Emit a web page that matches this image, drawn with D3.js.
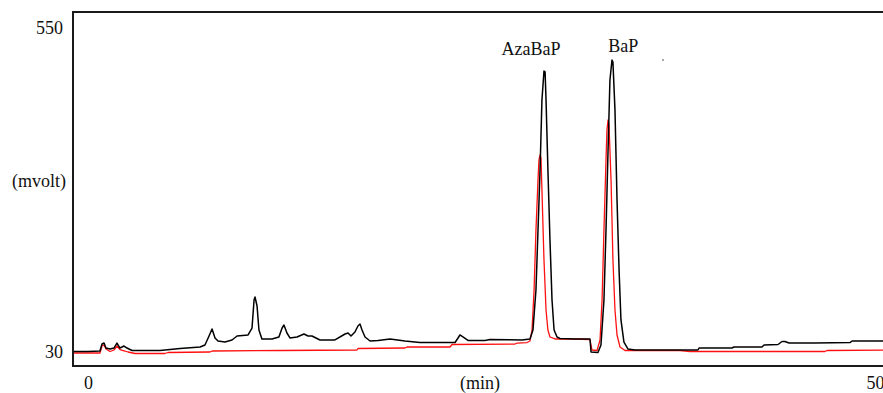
<!DOCTYPE html>
<html lang="en">
<head>
  <style>
    body { margin: 0; background: #fff; }
    .trace { fill: none; stroke-linejoin: round; }
    .lbl { font: 18px "Liberation Serif", serif; fill: #111; }
  </style>
  <script src="https://d3js.org/d3.v7.min.js"></script>
</head>
<body>
  <script>
    // time (min) and signal (mvolt)
    const blackTime = [-0.9, 0, 0.76, 0.89, 1.02, 1.14, 1.40, 1.65, 1.84, 2.03, 2.29, 2.48, 2.80, 4.57, 4.89, 5.85, 7.12, 7.43, 7.69, 7.88, 8.07, 8.26, 8.70, 9.15, 9.47, 10.17, 10.42, 10.55, 10.61, 10.74, 10.86, 11.05, 11.69, 12.13, 12.33, 12.45, 12.64, 12.83, 13.28, 13.72, 13.98, 14.23, 14.74, 15.69, 16.33, 16.52, 16.71, 16.96, 17.15, 17.28, 17.41, 17.60, 17.92, 18.43, 19.19, 20.14, 21.09, 23.32, 23.51, 23.63, 23.82, 24.14, 25.22, 25.54, 27.57, 28.08, 28.27, 28.46, 28.59, 28.72, 28.84, 28.97, 29.04, 29.10, 29.22, 29.35, 29.48, 29.61, 29.80, 29.99, 30.94, 31.89, 31.96, 32.40, 32.59, 32.78, 32.91, 33.04, 33.16, 33.29, 33.35, 33.48, 33.61, 33.74, 33.86, 34.05, 34.31, 34.75, 38.75, 38.82, 40.91, 41.04, 42.82, 42.95, 43.84, 44.09, 44.28, 44.54, 46.19, 48.41, 48.54, 51.5];
    const blackValue = [31, 31, 31.6, 42.8, 44.4, 36.4, 34.8, 36.4, 44.4, 36.4, 39.6, 36.4, 32.4, 32.4, 33.2, 35.6, 38, 41.2, 55.7, 66.9, 52.5, 47.7, 46, 49.3, 55.7, 57.3, 68.5, 113.5, 118.3, 103.8, 65.3, 50.9, 50.9, 54.1, 68.5, 73.3, 60.5, 52.5, 54.1, 58.9, 55.7, 55.7, 49.3, 49.3, 58.9, 60.5, 55.7, 62.1, 71.7, 74.9, 65.3, 54.1, 47.7, 48.5, 50.9, 47.7, 45.2, 45.2, 52.5, 57.3, 54.1, 48.5, 48.5, 50.1, 49.3, 50.9, 65.3, 129.5, 225.8, 322.1, 434.5, 481, 479.5, 434.5, 322, 209.8, 113.5, 65.3, 54.1, 51.7, 50.9, 50.9, 30, 29.2, 41.2, 113.5, 225.8, 354.2, 466.6, 498.7, 495.5, 418.4, 274, 161.6, 81.4, 46, 34.8, 33.2, 33.2, 36.4, 36.4, 38, 38, 41.2, 42, 46.9, 46.9, 44.4, 44.4, 45.2, 47.7, 47.7];

    const redTime = [-0.9, 0.76, 0.89, 1.02, 1.14, 1.40, 1.65, 1.84, 2.03, 2.35, 2.54, 2.99, 4.89, 5.08, 7.75, 7.88, 12.20, 17.09, 17.15, 20.14, 20.27, 23.00, 23.13, 27.13, 27.26, 27.89, 28.08, 28.21, 28.34, 28.46, 28.59, 28.65, 28.72, 28.78, 28.84, 28.97, 29.10, 29.22, 29.35, 29.67, 30.94, 31.89, 32.02, 32.34, 32.53, 32.66, 32.78, 32.91, 32.97, 33.04, 33.10, 33.23, 33.35, 33.48, 33.61, 33.80, 34.12, 37.61, 38.25, 46.82, 46.95, 51.5];
    const redValue = [28.4, 28.4, 39.6, 41.2, 34.8, 30.8, 33.2, 39.6, 34, 31.6, 30, 27.6, 27.6, 29.2, 30, 31.6, 32.4, 33.2, 35.6, 36.4, 38, 38, 42, 42.8, 44.4, 45.2, 47.7, 65.3, 129.5, 225.8, 306, 338.2, 346.2, 341.2, 290, 177.7, 97.4, 65.3, 54.1, 50.9, 50.9, 50.1, 33.2, 32.4, 49.3, 113.5, 225.8, 338.2, 386.3, 402.4, 394.3, 306, 177.7, 97.4, 57.3, 38, 32.4, 32.4, 30.8, 30.8, 32.4, 33.2];

    const peakNames = ["AzaBaP", "BaP"];
    const peakLabelTime = [28.15, 34.0];
    const peakLabelValue = [507, 512];

    const yTicks = [30, 550];
    const xTicks = [0, 50];

    const W = 883, H = 393;
    const frame = { left: 73, top: 12, bottom: 366 };

    const svg = d3.select("body")
      .append("svg")
      .attr("width", W)
      .attr("height", H);

    const x = d3.scaleLinear().domain([0, 50]).range([88, 875]);
    const y = d3.scaleLinear().domain([30, 550]).range([352, 28]);

    const line = d3.line()
      .x(d => x(d[0]))
      .y(d => y(d[1]));

    svg.append("path")
      .datum(d3.zip(redTime, redValue))
      .attr("class", "trace")
      .attr("stroke", "#ff1010")
      .attr("stroke-width", 1.3)
      .attr("d", line);

    svg.append("path")
      .datum(d3.zip(blackTime, blackValue))
      .attr("class", "trace")
      .attr("stroke", "#000")
      .attr("stroke-width", 1.5)
      .attr("d", line);

    // frame (left, top, bottom)
    svg.append("path")
      .attr("d", `M${W + 5},${frame.top}H${frame.left}V${frame.bottom}H${W + 5}`)
      .attr("fill", "none")
      .attr("stroke", "#1a1a1a")
      .attr("stroke-width", 2);

    const yAxis = svg.append("g")
      .attr("transform", `translate(${frame.left},0)`)
      .call(d3.axisLeft(y).tickValues(yTicks).tickSize(0).tickPadding(10));
    const xAxis = svg.append("g")
      .attr("transform", `translate(0,${frame.bottom})`)
      .call(d3.axisBottom(x).tickValues(xTicks).tickSize(0).tickPadding(10));
    [yAxis, xAxis].forEach(g => {
      g.select(".domain").remove();
      g.selectAll("text").attr("class", "lbl").attr("fill", "#111");
      g.attr("font-family", null).attr("font-size", null);
    });

    svg.append("text")
      .attr("class", "lbl")
      .attr("x", 66)
      .attr("y", 181)
      .attr("dy", "0.35em")
      .attr("text-anchor", "end")
      .text("(mvolt)");

    svg.append("text")
      .attr("class", "lbl")
      .attr("x", 480)
      .attr("y", 389)
      .attr("text-anchor", "middle")
      .text("(min)");

    svg.selectAll(".peak")
      .data(peakNames)
      .join("text")
      .attr("class", "lbl peak")
      .attr("x", (d, i) => x(peakLabelTime[i]))
      .attr("y", (d, i) => y(peakLabelValue[i]))
      .attr("text-anchor", "middle")
      .text(d => d);

    // small speck right of BaP label
    svg.append("circle")
      .attr("cx", x(36.53))
      .attr("cy", y(498.7))
      .attr("r", 0.8)
      .attr("fill", "#333");
  </script>
</body>
</html>
